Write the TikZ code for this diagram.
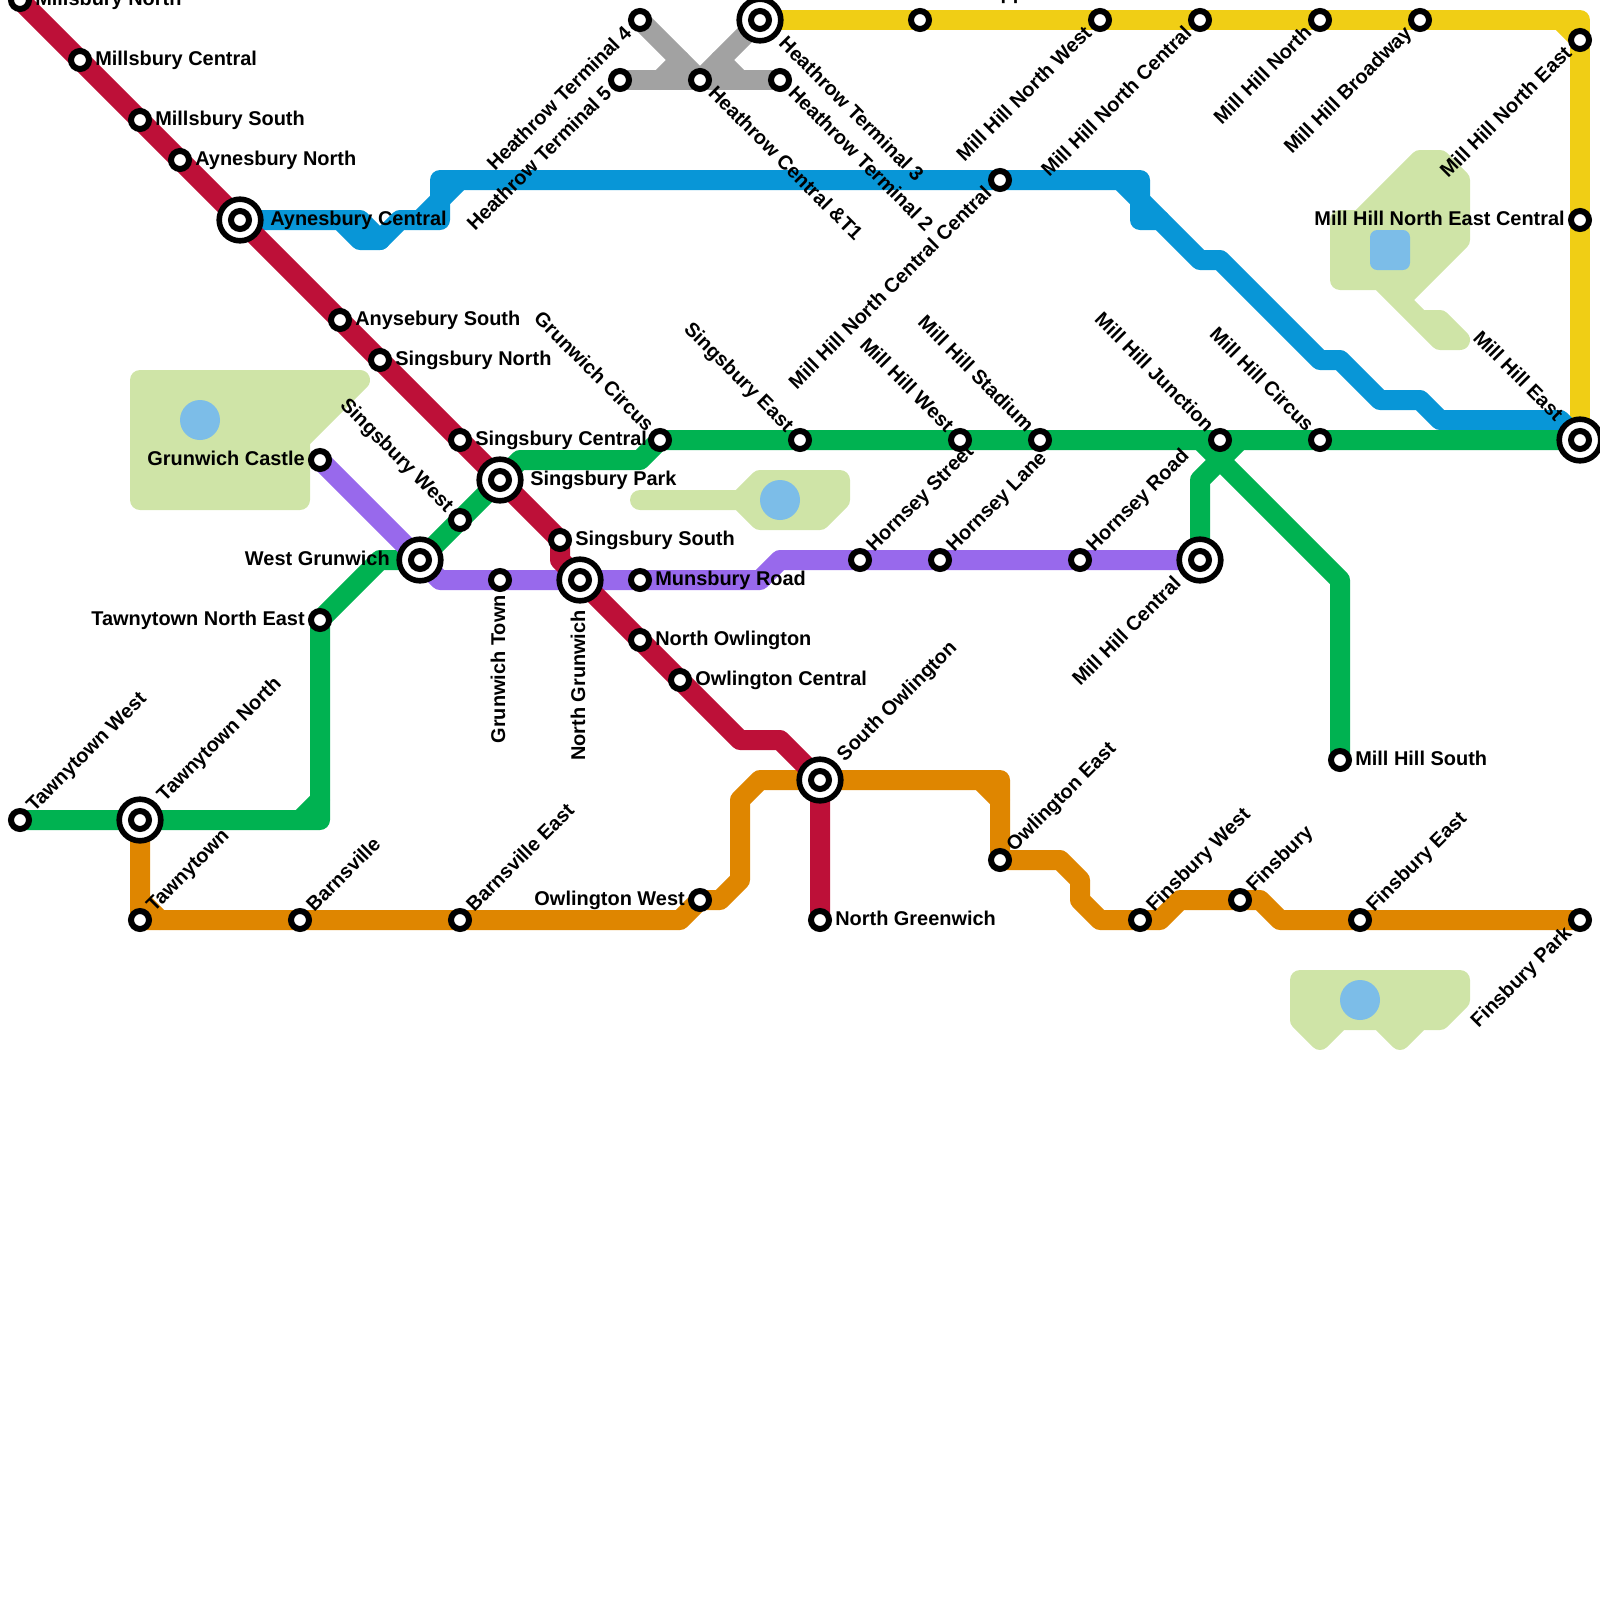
\documentclass[tikz,border=0pt]{standalone}
\usepackage{fontspec}
\setmainfont{Liberation Sans}
\usetikzlibrary{backgrounds}
\definecolor{redline}{HTML}{BD1038}
\definecolor{blueline}{HTML}{0896D7}
\definecolor{greenline}{HTML}{00B251}
\definecolor{yellowline}{HTML}{F0CE15}
\definecolor{orangeline}{HTML}{DF8600}
\definecolor{greyline}{HTML}{A2A2A2}
\definecolor{purpleline}{HTML}{9869EC}
\definecolor{parkgreen}{HTML}{CFE4A7}
\definecolor{lakeblue}{HTML}{7CBDE8}
\tikzset{
  route/.style={line width=0.5cm,line join=round,line cap=round},
  park/.style={fill=parkgreen,draw=parkgreen,line width=0.5cm,line join=round},
  lake/.style={fill=lakeblue},
  stop/.style={circle,draw=black,fill=white,line width=0.15cm,minimum size=0.45cm,inner sep=0pt},
  hub/.style={circle,draw=black,fill=white,line width=0.14cm,minimum size=1.04cm,inner sep=0pt,
    path picture={\draw[black,line width=0.15cm] (path picture bounding box.center) circle (0.225cm);}},
  stn/.style={font=\bfseries\fontsize{14.18pt}{16pt}\selectfont,inner sep=0pt,text=black},
  txtE/.style={stn,anchor=base west,xshift=0.375cm,yshift=-0.125cm},
  txtW/.style={stn,anchor=base east,xshift=-0.375cm,yshift=-0.125cm},
  hubE/.style={stn,anchor=base west,xshift=0.75cm,yshift=-0.125cm},
  hubW/.style={stn,anchor=base east,xshift=-0.75cm,yshift=-0.125cm},
  txtNE/.style={rotate=45,txtE},
  txtSE/.style={rotate=-45,txtE},
  txtSW/.style={rotate=45,txtW},
  txtNW/.style={rotate=-45,txtW},
  hubNE/.style={rotate=45,hubE},
  hubSE/.style={rotate=-45,hubE},
  hubSW/.style={rotate=45,hubW},
  hubNW/.style={rotate=-45,hubW},
}
\begin{document}
\begin{tikzpicture}[x=0.5cm,y=-0.5cm]
\useasboundingbox (0,0) rectangle (80,80);
% stations
\node[stop] (millN) at (1,0) {};
\node[stop] (millC) at (4,3) {};
\node[stop] (millS) at (7,6) {};
\node[stop] (ayneN) at (9,8) {};
\node[hub] (ayneC) at (12,11) {};
\node[stop] (anysS) at (17,16) {};
\node[stop] (singN) at (19,18) {};
\node[stop] (singC) at (23,22) {};
\node[hub] (singP) at (25,24) {};
\node[stop] (singS) at (28,27) {};
\node[hub] (northG) at (29,29) {};
\node[stop] (northO) at (32,32) {};
\node[stop] (owlC) at (34,34) {};
\node[hub] (southO) at (41,39) {};
\node[stop] (northGr) at (41,46) {};
\node[stop] (ht4) at (32,1) {};
\node[stop] (ht5) at (31,4) {};
\node[stop] (htC) at (35,4) {};
\node[stop] (ht2) at (39,4) {};
\node[hub] (ht3) at (38,1) {};
\node[stop] (mhA) at (46,1) {};
\node[stop] (mhNW) at (55,1) {};
\node[stop] (mhNC) at (60,1) {};
\node[stop] (mhN) at (66,1) {};
\node[stop] (mhB) at (71,1) {};
\node[stop] (mhNE) at (79,2) {};
\node[stop] (mhNEC) at (79,11) {};
\node[hub] (mhE) at (79,22) {};
\node[stop] (mhNCC) at (50,9) {};
\node[stop] (tawnW) at (1,41) {};
\node[hub] (tawnN) at (7,41) {};
\node[stop] (tawnNE) at (16,31) {};
\node[hub] (westG) at (21,28) {};
\node[stop] (singW) at (23,26) {};
\node[stop] (grunC) at (33,22) {};
\node[stop] (singE) at (40,22) {};
\node[stop] (mhW) at (48,22) {};
\node[stop] (mhSt) at (52,22) {};
\node[stop] (mhJ) at (61,22) {};
\node[stop] (mhCi) at (66,22) {};
\node[hub] (mhC) at (60,28) {};
\node[stop] (mhS) at (67,38) {};
\node[stop] (grunCa) at (16,23) {};
\node[stop] (grunT) at (25,29) {};
\node[stop] (munsR) at (32,29) {};
\node[stop] (hornSt) at (43,28) {};
\node[stop] (hornL) at (47,28) {};
\node[stop] (hornR) at (54,28) {};
\node[stop] (tawn) at (7,46) {};
\node[stop] (barn) at (15,46) {};
\node[stop] (barnE) at (23,46) {};
\node[stop] (owlW) at (35,45) {};
\node[stop] (owlE) at (50,43) {};
\node[stop] (finW) at (57,46) {};
\node[stop] (fin) at (62,45) {};
\node[stop] (finE) at (68,46) {};
\node[stop] (finP) at (79,46) {};
\begin{scope}[on background layer]
% parks
\filldraw[park] (7,19) -- (18,19) -- (15,22) -- (15,25) -- (7,25) -- cycle;
\filldraw[park] (32,25) -- (37,25) -- (38,24) -- (42,24) -- (42,25) -- (41,26) -- (38,26) -- (37,25) -- cycle;
\filldraw[park] (67,14) -- (67,11) -- (68,11) -- (71,8) -- (72,8) -- (73,9) -- (73,12) -- (70,15) -- (71,16) -- (72,16) -- (73,17) -- (72,17) -- (69,14) -- cycle;
\filldraw[park] (65,49) -- (73,49) -- (73,50) -- (72,51) -- (71,51) -- (70,52) -- (69,51) -- (67,51) -- (66,52) -- (65,51) -- cycle;
\fill[lake] (10,21) circle (1);
\fill[lake] (39,25) circle (1);
\fill[lake,rounded corners=0.18cm] (68.5,11.5) rectangle (70.5,13.5);
\fill[lake] (68,50) circle (1);
% routes
\draw[route,yellowline] (ht3.center) -- (79,1) -- (mhE.center);
\draw[route,yellowline] (78,1) -- (mhNE.center);
\draw[route,greyline] (ht4.center) -- (htC.center) -- (ht3.center);
\draw[route,greyline] (ht5.center) -- (ht2.center);
\draw[route,greyline] (33,4) -- (34,3);
\draw[route,greyline] (36,3) -- (37,4);
\draw[route,blueline] (ayneC.center) -- (18,11) -- (19,12) -- (18,12) -- (17,11);
\draw[route,blueline] (19,12) -- (20,11) -- (22,11) -- (22,9) -- (57,9) -- (57,11) -- (58,11);
\draw[route,blueline] (21,11) -- (23,9);
\draw[route,blueline] (56,9) -- (60,13) -- (61,13) -- (66,18) -- (67,18) -- (69,20) -- (71,20) -- (72,21) -- (78,21) -- (mhE.center);
\draw[route,greenline] (tawnW.center) -- (16,41) -- (tawnNE.center) -- (19,28) -- (westG.center) -- (singP.center) -- (26,23) -- (32,23) -- (grunC.center) -- (mhE.center);
\draw[route,greenline] (15,41) -- (16,40);
\draw[route,greenline] (60,22) -- (67,29) -- (mhS.center);
\draw[route,greenline] (62,22) -- (60,24) -- (mhC.center);
\draw[route,purpleline] (grunCa.center) -- (westG.center) -- (22,29) -- (38,29) -- (39,28) -- (mhC.center);
\draw[route,orangeline] (tawnN.center) -- (tawn.center) -- (34,46) -- (owlW.center) -- (36,45) -- (37,44) -- (37,40) -- (38,39) -- (50,39) -- (owlE.center) -- (53,43) -- (54,44) -- (54,45) -- (55,46) -- (58,46) -- (59,45) -- (63,45) -- (64,46) -- (finP.center);
\draw[route,orangeline] (7,45) -- (8,46);
\draw[route,orangeline] (49,39) -- (50,40);
\draw[route,redline] (millN.center) -- (singS.center) -- (28,28) -- (northG.center) -- (37,37) -- (39,37) -- (southO.center) -- (northGr.center);
\end{scope}
% labels
\node[txtE] (lbMillN) at (millN) {Millsbury North};
\node[txtE] (lbMillC) at (millC) {Millsbury Central};
\node[txtE] (lbMillS) at (millS) {Millsbury South};
\node[txtE] (lbAyneN) at (ayneN) {Aynesbury North};
\node[hubE] (lbAyneC) at (ayneC) {Aynesbury Central};
\node[txtE] (lbAnysS) at (anysS) {Anysebury South};
\node[txtE] (lbSingN) at (singN) {Singsbury North};
\node[txtE] (lbSingC) at (singC) {Singsbury Central};
\node[hubE] (lbSingP) at (singP) {Singsbury Park};
\node[txtE] (lbSingS) at (singS) {Singsbury South};
\node[txtE] (lbMunsR) at (munsR) {Munsbury Road};
\node[txtE] (lbNorthO) at (northO) {North Owlington};
\node[txtE] (lbOwlC) at (owlC) {Owlington Central};
\node[txtE] (lbNorthGr) at (northGr) {North Greenwich};
\node[txtE] (lbMhS) at (mhS) {Mill Hill South};
\node[txtW] (lbGrunCa) at (grunCa) {Grunwich Castle};
\node[txtW] (lbTawnNE) at (tawnNE) {Tawnytown North East};
\node[hubW] (lbWestG) at (westG) {West Grunwich};
\node[txtW] (lbOwlW) at (owlW) {Owlington West};
\node[txtW] (lbMhNEC) at (mhNEC) {Mill Hill North East Central};
\node[txtNE] (lbTawnW) at (tawnW) {Tawnytown West};
\node[hubNE] (lbTawnN) at (tawnN) {Tawnytown North};
\node[txtNE] (lbTawn) at (tawn) {Tawnytown};
\node[txtNE] (lbBarn) at (barn) {Barnsville};
\node[txtNE] (lbBarnE) at (barnE) {Barnsville East};
\node[hubNE] (lbSouthO) at (southO) {South Owlington};
\node[txtNE] (lbOwlE) at (owlE) {Owlington East};
\node[txtNE] (lbFinW) at (finW) {Finsbury West};
\node[txtNE] (lbFin) at (fin) {Finsbury};
\node[txtNE] (lbFinE) at (finE) {Finsbury East};
\node[txtNE] (lbHornSt) at (hornSt) {Hornsey Street};
\node[txtNE] (lbHornL) at (hornL) {Hornsey Lane};
\node[txtNE] (lbHornR) at (hornR) {Hornsey Road};
\node[txtSW] (lbHt4) at (ht4) {Heathrow Terminal 4};
\node[txtSW] (lbHt5) at (ht5) {Heathrow Terminal 5};
\node[txtSW] (lbMhNCC) at (mhNCC) {Mill Hill North Central Central};
\node[txtSW] (lbMhNW) at (mhNW) {Mill Hill North West};
\node[txtSW] (lbMhNC) at (mhNC) {Mill Hill North Central};
\node[txtSW] (lbMhN) at (mhN) {Mill Hill North};
\node[txtSW] (lbMhB) at (mhB) {Mill Hill Broadway};
\node[txtSW] (lbMhNE) at (mhNE) {Mill Hill North East};
\node[txtSW] (lbFinP) at (finP) {Finsbury Park};
\node[hubSW] (lbMhC) at (mhC) {Mill Hill Central};
\node[txtNW] (lbSingW) at (singW) {Singsbury West};
\node[txtNW] (lbGrunC) at (grunC) {Grunwich Circus};
\node[txtNW] (lbSingE) at (singE) {Singsbury East};
\node[txtNW] (lbMhW) at (mhW) {Mill Hill West};
\node[txtNW] (lbMhSt) at (mhSt) {Mill Hill Stadium};
\node[txtNW] (lbMhJ) at (mhJ) {Mill Hill Junction};
\node[txtNW] (lbMhCi) at (mhCi) {Mill Hill Circus};
\node[hubNW] (lbMhE) at (mhE) {Mill Hill East};
\node[txtSE] (lbHtC) at (htC) {Heathrow Central \&T1};
\node[txtSE] (lbHt2) at (ht2) {Heathrow Terminal 2};
\node[hubSE] (lbHt3) at (ht3) {Heathrow Terminal 3};
\node[rotate=90,txtW] (lbGrunT) at (grunT) {Grunwich Town};
\node[rotate=90,hubW] (lbNorthG) at (northG) {North Grunwich};
\node[stn,anchor=base west] (lbMhA) at (50.015,-0.05) {pp};
\end{tikzpicture}
\end{document}
